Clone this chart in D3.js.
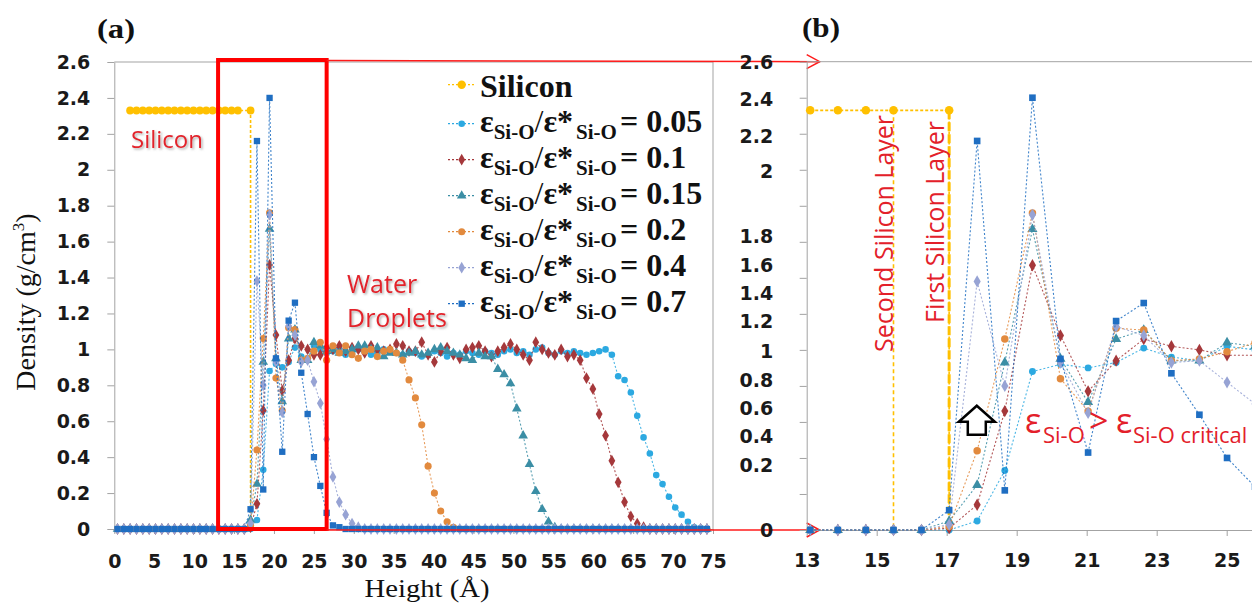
<!DOCTYPE html>
<html>
<head>
<meta charset="utf-8">
<script src="https://cdn.jsdelivr.net/npm/d3@7"></script>
<style>
  body { margin: 0; background: #fff; }
  .tick text { font-family: "DejaVu Sans", sans-serif; font-weight: bold; font-size: 19px; fill: #1a1a1a; }
  .red { font-family: "Open Sans", sans-serif; fill: #e3202a; }
  .serif { font-family: "Liberation Serif", "Times New Roman", serif; fill: #111; }
</style>
</head>
<body>
<div class="graphContainer"></div>
<script>
// bin centres (Å) shared by the water series
const heights = [
  0.40, 1.19, 1.98, 2.78, 3.57, 4.37, 5.16, 5.95, 6.75, 7.54,
  8.34, 9.13, 9.92, 10.72, 11.51, 12.31, 13.10, 13.89, 14.69, 15.48,
  16.28, 17.07, 17.87, 18.66, 19.45, 20.25, 21.04, 21.84, 22.63, 23.42,
  24.22, 25.01, 25.81, 26.60, 27.39, 28.19, 28.98, 29.78, 30.57, 31.37,
  32.16, 32.95, 33.75, 34.54, 35.34, 36.13, 36.92, 37.72, 38.51, 39.31,
  40.10, 40.89, 41.69, 42.48, 43.28, 44.07, 44.86, 45.66, 46.45, 47.25,
  48.04, 48.83, 49.63, 50.42, 51.22, 52.01, 52.80, 53.60, 54.39, 55.18,
  55.98, 56.77, 57.57, 58.36, 59.15, 59.95, 60.74, 61.54, 62.33, 63.12,
  63.92, 64.71, 65.51, 66.30, 67.09, 67.89, 68.68, 69.48, 70.27, 71.06,
  71.86, 72.65, 73.45, 74.24
];

const eps005 = [
  0, 0, 0, 0, 0, 0, 0, 0, 0, 0,
  0, 0, 0, 0, 0, 0, 0, 0, 0, 0,
  0, 0.00, 0.05, 0.33, 0.88, 0.92, 0.90, 0.93, 1.01, 0.96,
  0.94, 1.02, 1.00, 0.98, 0.99, 1.00, 0.97, 0.98, 1.00, 0.99,
  0.97, 0.98, 1.00, 0.99, 0.98, 0.97, 0.99, 0.98, 0.96, 0.97,
  0.99, 0.98, 0.96, 0.98, 0.97, 0.99, 0.98, 0.97, 0.99, 0.98,
  0.97, 0.99, 1.00, 0.98, 0.99, 0.97, 1.00, 1.01, 0.98, 0.97,
  0.99, 0.98, 0.99, 0.98, 0.97, 0.98, 0.99, 1.00, 0.97, 0.85,
  0.83, 0.76, 0.63, 0.51, 0.42, 0.30, 0.25, 0.18, 0.12, 0.08,
  0.04, 0.01, 0.005, 0
];
const eps01 = [
  0, 0, 0, 0, 0, 0, 0, 0, 0, 0,
  0, 0, 0, 0, 0, 0, 0, 0, 0, 0,
  0, 0.01, 0.14, 0.66, 1.47, 1.08, 0.77, 0.94, 1.06, 1.02,
  1.00, 0.97, 0.97, 1.01, 1.00, 1.02, 0.99, 1.01, 1.00, 0.98,
  1.02, 1.00, 0.99, 1.00, 1.03, 1.02, 0.99, 0.99, 1.04, 0.97,
  0.93, 0.99, 1.01, 0.97, 0.95, 1.00, 1.01, 1.02, 0.99, 0.96,
  0.99, 1.01, 1.03, 1.00, 0.97, 0.94, 1.04, 1.00, 0.98, 0.97,
  1.00, 0.96, 0.97, 0.94, 0.84, 0.78, 0.64, 0.52, 0.38, 0.26,
  0.15, 0.07, 0.03, 0.01, 0, 0, 0, 0, 0, 0,
  0, 0, 0, 0
];
const eps015 = [
  0, 0, 0, 0, 0, 0, 0, 0, 0, 0,
  0, 0, 0, 0, 0, 0, 0, 0, 0, 0,
  0, 0.05, 0.25, 0.93, 1.67, 0.95, 0.71, 1.06, 1.11, 0.94,
  0.94, 1.04, 1.02, 0.99, 1.00, 0.98, 0.99, 1.00, 1.02, 1.02,
  1.00, 1.01, 0.96, 0.98, 0.98, 0.97, 0.98, 0.99, 0.97, 0.98,
  1.00, 1.01, 0.99, 0.98, 0.97, 0.95, 0.94, 0.98, 0.96, 0.96,
  0.89, 0.86, 0.81, 0.67, 0.52, 0.36, 0.21, 0.11, 0.04, 0.01,
  0, 0, 0, 0, 0, 0, 0, 0, 0, 0,
  0, 0, 0, 0, 0, 0, 0, 0, 0, 0,
  0, 0, 0, 0
];
const eps02 = [
  0, 0, 0, 0, 0, 0, 0, 0, 0, 0,
  0, 0, 0, 0, 0, 0, 0, 0, 0, 0,
  0, 0.02, 0.44, 1.06, 1.76, 0.84, 0.66, 1.12, 1.11, 0.94,
  0.95, 0.99, 1.04, 0.94, 1.02, 0.98, 1.02, 0.97, 0.95, 0.99,
  1.00, 0.96, 0.99, 1.00, 0.98, 0.94, 0.83, 0.73, 0.58, 0.35,
  0.20, 0.10, 0.04, 0.01, 0, 0, 0, 0, 0, 0,
  0, 0, 0, 0, 0, 0, 0, 0, 0, 0,
  0, 0, 0, 0, 0, 0, 0, 0, 0, 0,
  0, 0, 0, 0, 0, 0, 0, 0, 0, 0,
  0, 0, 0, 0
];
const eps04 = [
  0, 0, 0, 0, 0, 0, 0, 0, 0, 0,
  0, 0, 0, 0, 0, 0, 0, 0, 0, 0,
  0, 0.03, 1.38, 0.80, 1.75, 0.93, 0.65, 1.13, 1.08, 0.93,
  0.94, 0.82, 0.70, 0.50, 0.29, 0.15, 0.08, 0.03, 0.01, 0,
  0, 0, 0, 0, 0, 0, 0, 0, 0, 0,
  0, 0, 0, 0, 0, 0, 0, 0, 0, 0,
  0, 0, 0, 0, 0, 0, 0, 0, 0, 0,
  0, 0, 0, 0, 0, 0, 0, 0, 0, 0,
  0, 0, 0, 0, 0, 0, 0, 0, 0, 0,
  0, 0, 0, 0
];
const eps07 = [
  0, 0, 0, 0, 0, 0, 0, 0, 0, 0,
  0, 0, 0, 0, 0, 0, 0, 0, 0, 0,
  0, 0.11, 2.16, 0.22, 2.40, 0.95, 0.43, 1.16, 1.26, 0.87,
  0.64, 0.40, 0.24, 0.09, 0.02, 0.01, 0, 0, 0, 0,
  0, 0, 0, 0, 0, 0, 0, 0, 0, 0,
  0, 0, 0, 0, 0, 0, 0, 0, 0, 0,
  0, 0, 0, 0, 0, 0, 0, 0, 0, 0,
  0, 0, 0, 0, 0, 0, 0, 0, 0, 0,
  0, 0, 0, 0, 0, 0, 0, 0, 0, 0,
  0, 0, 0, 0
];

// silicon slab: constant density, then the drop at the first layer
const siliconHeights = [1.98, 2.78, 3.57, 4.37, 5.16, 5.95, 6.75, 7.54, 8.34, 9.13,
  9.92, 10.72, 11.51, 12.31, 13.10, 13.89, 14.69, 15.48, 17.07, 17.07];
const siliconDensity = [2.33, 2.33, 2.33, 2.33, 2.33, 2.33, 2.33, 2.33, 2.33, 2.33,
  2.33, 2.33, 2.33, 2.33, 2.33, 2.33, 2.33, 2.33, 2.33, 0];

const seriesNames = ["0.05", "0.1", "0.15", "0.2", "0.4", "0.7"];
const seriesValues = [eps005, eps01, eps015, eps02, eps04, eps07];

const layerNames = ["First Silicon Layer", "Second Silicon Layer"];
const layerHeights = [17.07, 15.48];

const leftXTicks = [0, 5, 10, 15, 20, 25, 30, 35, 40, 45, 50, 55, 60, 65, 70, 75];
const yTicks = [0, 0.2, 0.4, 0.6, 0.8, 1, 1.2, 1.4, 1.6, 1.8, 2, 2.2, 2.4, 2.6];
const rightXTicks = [13, 15, 17, 19, 21, 23, 25];
// right panel labels are printed off their ticks in the original
const rightYLabels = ["2.6", "2.4", "2.2", "2", "1.8", "1.6", "1.4", "1.2", "1", "0.8", "0.6", "0.4", "0.2", "0"];
const rightYLabelAt = [2.595, 2.391, 2.188, 1.989, 1.629, 1.471, 1.314, 1.157, 0.99, 0.833, 0.676, 0.518, 0.361, 0];

const zoomRange = [13, 26.6];

const siliconColor = "#FFC000";
const colors = ["#2CA9E1", "#A5383B", "#3B8EA5", "#E28A3E", "#97A3D4", "#1F6EC2"];
const symbols = [d3.symbolCircle, d3.symbolDiamond, d3.symbolTriangle, d3.symbolCircle, d3.symbolDiamond, d3.symbolSquare];
const symbolSizes = [34, 40, 40, 40, 40, 40];

function start() {
  const w = 1252, h = 611;

  const svg = d3.select(".graphContainer")
    .append("svg")
    .attr("width", w)
    .attr("height", h)
    .style("display", "block")
    .style("background", "#fff");

  svg.append("defs").append("filter")
    .attr("id", "shadow")
    .attr("x", "-10%").attr("y", "-20%").attr("width", "130%").attr("height", "150%")
    .append("feDropShadow")
    .attr("dx", 1.5).attr("dy", 1.5).attr("stdDeviation", 1.2)
    .attr("flood-color", "#777").attr("flood-opacity", 0.6);

  const xL = d3.scaleLinear().domain([0, 75]).range([114.3, 713]);
  const yL = d3.scaleLinear().domain([0, 2.6]).range([529, 62]);
  const xR = d3.scaleLinear().domain([13, 26.5]).range([806.7, 806.7 + 13.5 * 35]);
  const yR = d3.scaleLinear().domain([0, 2.6]).range([530, 61.7]);

  const grey = "#a3a3a3";

  // ---------- panel (a) ----------
  const axL = svg.append("g")
    .attr("transform", `translate(${xL(0)},0)`)
    .call(d3.axisLeft(yL).tickValues(yTicks).tickSize(7).tickPadding(17).tickSizeOuter(0)
      .tickFormat(d => +d.toFixed(1)));
  const axB = svg.append("g")
    .attr("transform", `translate(0,${yL(0)})`)
    .call(d3.axisBottom(xL).tickValues(leftXTicks).tickSize(5).tickSizeOuter(0));
  axB.selectAll(".tick text").attr("y", 39).attr("dy", 0);

  [axL, axB].forEach(a => {
    a.select(".domain").attr("stroke", grey);
    a.selectAll(".tick line").attr("stroke", grey);
  });

  svg.append("path")
    .attr("d", `M${xL(0)},${yL(2.6)}H${xL(75)}V${yL(0)}`)
    .attr("fill", "none").attr("stroke", grey);

  drawPanel(svg.append("g"), xL, yL, () => true, 1);

  // legend
  const legend = svg.append("g");
  const legendRow = (i) => i === 0 ? 96.7 : 131.7 + 36 * (i - 1);
  const legendColors = [siliconColor].concat(colors);
  legendColors.forEach((c, i) => {
    const by = legendRow(i);
    const my = i === 0 ? by - 12 : by - 8;
    legend.append("line")
      .attr("x1", 448).attr("x2", 475).attr("y1", my).attr("y2", my)
      .attr("stroke", c).attr("stroke-width", 1.2).attr("stroke-dasharray", "2,2");
    legend.append("path")
      .attr("transform", `translate(461.7,${my})`)
      .attr("d", d3.symbol().type(i === 0 ? d3.symbolCircle : symbols[i - 1])
        .size(i === 0 ? 55 : symbolSizes[i - 1])())
      .attr("fill", c);
    const t = legend.append("text")
      .attr("class", "serif")
      .attr("x", 480).attr("y", by)
      .attr("font-weight", "bold")
      .attr("font-size", 32);
    if (i === 0) {
      t.attr("font-size", 32).text("Silicon");
    } else {
      t.append("tspan").text("ε");
      t.append("tspan").attr("font-size", 21).attr("dy", 7).text("Si-O");
      t.append("tspan").attr("dy", -7).attr("font-weight", "normal").text("/");
      t.append("tspan").text("ε*");
      t.append("tspan").attr("font-size", 21).attr("dy", 7).attr("dx", 3).text("Si-O");
      t.append("tspan").attr("dy", -7).attr("dx", 3).text("= " + seriesNames[i - 1]);
    }
  });

  // red annotations in panel (a)
  svg.append("text").attr("class", "red").attr("filter", "url(#shadow)")
    .attr("x", 131).attr("y", 148).attr("font-size", 24).text("Silicon");
  svg.append("text").attr("class", "red").attr("filter", "url(#shadow)")
    .attr("x", 347).attr("y", 293).attr("font-size", 25).text("Water");
  svg.append("text").attr("class", "red").attr("filter", "url(#shadow)")
    .attr("x", 347).attr("y", 327).attr("font-size", 25).text("Droplets");

  // zoom box and connectors
  svg.append("rect")
    .attr("x", xL(zoomRange[0])).attr("y", yL(2.6) - 2)
    .attr("width", xL(zoomRange[1]) - xL(zoomRange[0]))
    .attr("height", yL(0) - yL(2.6) + 2)
    .attr("fill", "none").attr("stroke", "#ff0000").attr("stroke-width", 4);

  const tipX = xR(13) + 13;
  [[yL(2.6) - 1.5, yR(2.6)], [yL(0) + 1, yR(0)]].forEach(([y0, y1]) => {
    svg.append("line")
      .attr("x1", xL(zoomRange[1])).attr("y1", y0).attr("x2", tipX).attr("y2", y1)
      .attr("stroke", "#ff1a1a").attr("stroke-width", 1.5);
    svg.append("path")
      .attr("d", `M${tipX - 13},${y1 - 7}L${tipX},${y1}L${tipX - 13},${y1 + 7}`)
      .attr("fill", "none").attr("stroke", "#ff1a1a").attr("stroke-width", 1.5);
  });

  // axis titles and panel tags
  svg.append("text").attr("class", "serif")
    .attr("x", 427).attr("y", 597).attr("text-anchor", "middle")
    .attr("font-size", 25).attr("textLength", 125).attr("lengthAdjust", "spacingAndGlyphs")
    .text("Height (Å)");
  const yt = svg.append("text").attr("class", "serif")
    .attr("transform", "translate(35,302) rotate(-90)")
    .attr("text-anchor", "middle").attr("font-size", 28);
  yt.append("tspan").text("Density (g/cm");
  yt.append("tspan").attr("font-size", 17).attr("dy", -11).text("3");
  yt.append("tspan").attr("dy", 11).text(")");

  svg.append("text").attr("class", "serif").attr("font-weight", "bold")
    .attr("x", 97).attr("y", 38).attr("font-size", 27)
    .attr("textLength", 38).attr("lengthAdjust", "spacingAndGlyphs").text("(a)");
  svg.append("text").attr("class", "serif").attr("font-weight", "bold")
    .attr("x", 802).attr("y", 37).attr("font-size", 27)
    .attr("textLength", 38).attr("lengthAdjust", "spacingAndGlyphs").text("(b)");

  // ---------- panel (b) ----------
  const axRL = svg.append("g")
    .attr("transform", `translate(${xR(13)},0)`)
    .call(d3.axisLeft(yR).tickValues(yTicks).tickSize(7).tickSizeOuter(0).tickFormat(() => ""));
  const axRB = svg.append("g")
    .attr("transform", `translate(0,${yR(0)})`)
    .call(d3.axisBottom(xR).tickValues(rightXTicks).tickSize(6).tickSizeOuter(0));
  axRB.selectAll(".tick text").attr("y", 37).attr("dy", 0);
  [axRL, axRB].forEach(a => {
    a.select(".domain").attr("stroke", grey);
    a.selectAll(".tick line").attr("stroke", grey);
  });
  svg.append("line")
    .attr("x1", xR(13)).attr("x2", w).attr("y1", yR(2.6)).attr("y2", yR(2.6))
    .attr("stroke", grey);

  svg.append("g").selectAll("text")
    .data(rightYLabels)
    .enter()
    .append("text")
    .attr("x", xR(13) - 33.5)
    .attr("y", (d, i) => yR(rightYLabelAt[i]))
    .attr("dy", "0.35em")
    .attr("text-anchor", "end")
    .attr("font-family", "DejaVu Sans, sans-serif")
    .attr("font-weight", "bold")
    .attr("font-size", 19)
    .attr("fill", "#1a1a1a")
    .text(d => d);

  // silicon layer markers
  svg.append("line")
    .attr("x1", xR(layerHeights[1])).attr("x2", xR(layerHeights[1]))
    .attr("y1", yR(2.33)).attr("y2", yR(0))
    .attr("stroke", siliconColor).attr("stroke-width", 1.6).attr("stroke-dasharray", "4,3");
  svg.append("line")
    .attr("x1", xR(layerHeights[0])).attr("x2", xR(layerHeights[0]))
    .attr("y1", yR(2.33)).attr("y2", yR(0))
    .attr("stroke", siliconColor).attr("stroke-width", 3).attr("stroke-dasharray", "9,3");

  drawPanel(svg.append("g"), xR, yR, hgt => hgt >= 13 && hgt <= 27, 1.1);

  svg.selectAll(".layerLabel")
    .data(layerNames)
    .enter()
    .append("text")
    .attr("class", "red")
    .attr("transform", (d, i) =>
      `translate(${xR(layerHeights[i]) - (i === 0 ? 5 : 1)},${i === 0 ? 323 : 352}) rotate(-90)`)
    .attr("font-size", 25)
    .text(d => d);

  // hollow arrow
  const ax = xR(17.86), ay = yR(0.69);
  svg.append("path")
    .attr("d", `M${ax},${ay}L${ax + 18},${ay + 16}H${ax + 9}V${ay + 29}H${ax - 9}V${ay + 16}H${ax - 18}Z`)
    .attr("fill", "#fff").attr("stroke", "#000").attr("stroke-width", 2.5)
    .attr("stroke-linejoin", "miter");

  const crit = svg.append("text").attr("class", "red").attr("y", 433);
  crit.append("tspan").attr("x", 1025).attr("font-size", 34).text("ε");
  crit.append("tspan").attr("x", 1043).attr("dy", 10).attr("font-size", 22).text("Si-O");
  crit.append("tspan").attr("x", 1089).attr("dy", -10).attr("font-size", 34).text(">");
  crit.append("tspan").attr("x", 1116).attr("font-size", 34).text("ε");
  crit.append("tspan").attr("x", 1133).attr("dy", 10).attr("font-size", 22).text("Si-O critical");
}

function drawPanel(g, x, y, keep, k) {
  // silicon first, water series over it in legend order
  const si = siliconHeights.map((hgt, i) => [hgt, siliconDensity[i]]).filter(d => keep(d[0]));
  g.append("path")
    .attr("d", d3.line().x(d => x(d[0])).y(d => y(d[1]))(si))
    .attr("fill", "none").attr("stroke", siliconColor)
    .attr("stroke-width", 1.6).attr("stroke-dasharray", "3,2");
  g.selectAll(".si")
    .data(si.filter(d => d[1] > 0))
    .enter()
    .append("circle")
    .attr("cx", d => x(d[0]))
    .attr("cy", d => y(d[1]))
    .attr("r", 3.9 * k)
    .attr("fill", siliconColor);

  seriesValues.forEach((vals, s) => {
    const pts = heights.map((hgt, i) => [hgt, vals[i]]).filter(d => keep(d[0]));
    g.append("path")
      .attr("d", d3.line().x(d => x(d[0])).y(d => y(d[1]))(pts))
      .attr("fill", "none").attr("stroke", colors[s])
      .attr("stroke-opacity", 0.85)
      .attr("stroke-width", 1.1).attr("stroke-dasharray", "2,2");
    g.selectAll(".m" + s)
      .data(pts)
      .enter()
      .append("path")
      .attr("transform", d => `translate(${x(d[0])},${y(d[1])})`)
      .attr("d", d3.symbol().type(symbols[s]).size(symbolSizes[s] * k)())
      .attr("fill", colors[s]);
  });
}

start();
</script>
</body>
</html>
